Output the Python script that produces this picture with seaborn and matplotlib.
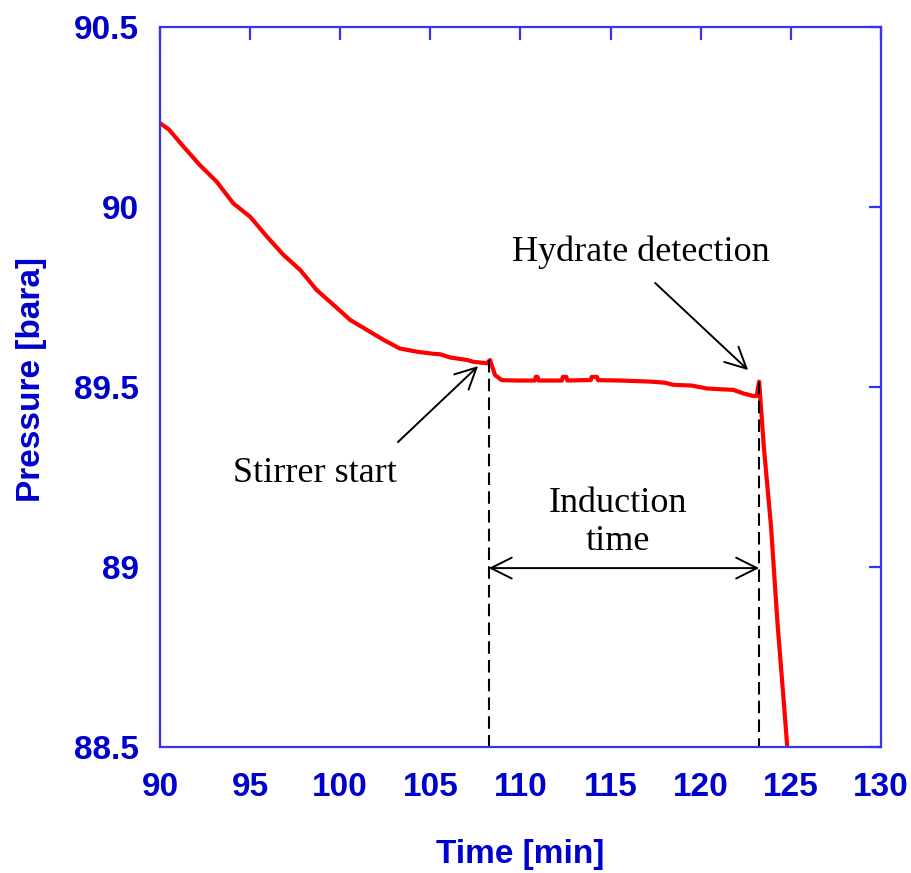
import matplotlib
matplotlib.use("Agg")
import matplotlib.pyplot as plt
import seaborn as sns
import pandas as pd

# ---- data ----
time_min = [90.0, 90.5, 91.3, 92.2, 93.15, 94.07, 95.0, 95.93, 96.85, 97.78,
            98.7, 99.63, 100.56, 101.5, 102.4, 103.3, 104.26, 105.2, 105.54,
            106.1, 107.04, 107.39, 108.13, 108.31, 108.59, 108.96, 109.8,
            110.8, 110.85, 110.95, 111.0, 112.3, 112.35, 112.55, 112.6,
            113.5, 113.9, 113.95, 114.25, 114.3, 115.5, 117.19, 118.0,
            118.48, 119.5, 120.33, 121.0, 121.81, 122.37, 122.92, 123.1,
            123.24, 123.5, 123.9, 124.26, 124.6, 124.8, 125.0]
pressure_bara = [90.233, 90.215, 90.168, 90.117, 90.070, 90.010, 89.973,
                 89.918, 89.867, 89.825, 89.769, 89.728, 89.686, 89.658,
                 89.631, 89.607, 89.598, 89.592, 89.591, 89.582, 89.575,
                 89.570, 89.566, 89.575, 89.533, 89.519, 89.518, 89.518,
                 89.528, 89.528, 89.518, 89.518, 89.528, 89.528, 89.518,
                 89.519, 89.519, 89.528, 89.528, 89.519, 89.518, 89.515,
                 89.512, 89.506, 89.504, 89.496, 89.494, 89.492, 89.482,
                 89.475, 89.475, 89.515, 89.334, 89.112, 88.843, 88.63,
                 88.5, 88.42]

x_ticks = [90, 95, 100, 105, 110, 115, 120, 125, 130]
y_ticks = [88.5, 89.0, 89.5, 90.0, 90.5]
y_tick_labels = ["88.5", "89", "89.5", "90", "90.5"]

stirrer_start = 108.24
hydrate_detect = 123.24

df = pd.DataFrame({"Time": time_min, "Pressure": pressure_bara})

sns.set_style("white")
plt.rcParams["font.family"] = ["Liberation Sans", "DejaVu Sans"]

blue_spine = "#3535EE"
blue_text = "#0000CC"

fig = plt.figure(figsize=(9.12, 8.73), dpi=100)
ax = fig.add_axes([0.1754, 0.1443, 0.7906, 0.8248])

sns.lineplot(data=df, x="Time", y="Pressure", ax=ax, color="#FF0000",
             linewidth=3.0, sort=False, estimator=None)

ax.set_xlim(90, 130)
ax.set_ylim(88.5, 90.5)
ax.set_xticks(x_ticks)
ax.set_xticklabels([str(v) for v in x_ticks])
ax.set_yticks(y_ticks)
ax.set_yticklabels(y_tick_labels)

for s in ax.spines.values():
    s.set_visible(True)
    s.set_color(blue_spine)
    s.set_linewidth(1.6)

ax.tick_params(axis="both", direction="in", length=9, width=1.6,
               color=blue_spine, top=True, right=True,
               labelsize=24, labelcolor=blue_text)
ax.tick_params(axis="x", pad=18)
ax.tick_params(axis="y", pad=15)
for lab in ax.get_xticklabels() + ax.get_yticklabels():
    lab.set_fontweight("bold")

ax.set_xlabel("Time [min]", fontsize=24, fontweight="bold", color=blue_text,
              labelpad=26)
ax.set_ylabel("Pressure [bara]", fontsize=24, fontweight="bold",
              color=blue_text)
ax.yaxis.set_label_coords(-0.157, 0.51)

# dashed markers
ax.plot([stirrer_start, stirrer_start], [89.575, 88.5], color="black",
        lw=1.5, linestyle=(0, (6, 3)))
ax.plot([hydrate_detect, hydrate_detect], [89.515, 88.5], color="black",
        lw=1.5, linestyle=(0, (6, 3)))

serif = ["Liberation Serif", "DejaVu Serif"]
arrow_kw = dict(arrowstyle="->,head_length=0.6,head_width=0.3", lw=1.4,
                color="black", mutation_scale=25, shrinkA=0, shrinkB=0)

ax.annotate("", xy=(107.65, 89.558), xytext=(103.2, 89.347),
            arrowprops=arrow_kw)
ax.text(98.6, 89.26, "Stirrer start", family=serif, fontsize=26,
        ha="center", va="center", color="black")

ax.annotate("", xy=(122.63, 89.547), xytext=(117.47, 89.789),
            arrowprops=arrow_kw)
ax.text(116.69, 89.875, "Hydrate detection", family=serif, fontsize=26,
        ha="center", va="center", color="black")

dbl_kw = dict(arrow_kw)
dbl_kw["arrowstyle"] = "<->,head_length=0.6,head_width=0.3"
ax.annotate("", xy=(hydrate_detect, 88.997), xytext=(stirrer_start, 88.997),
            arrowprops=dbl_kw)
ax.text(115.4, 89.125, "Induction\ntime", family=serif, fontsize=26,
        ha="center", va="center", multialignment="center",
        linespacing=1.2, color="black")

fig.savefig("out.png", dpi=100)
